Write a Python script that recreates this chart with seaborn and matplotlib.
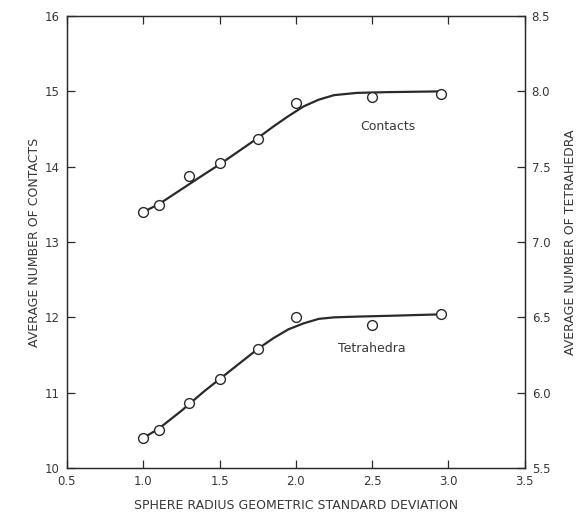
import numpy as np
import pandas as pd
import matplotlib
matplotlib.use("Agg")
import matplotlib.pyplot as plt
import seaborn as sns

# measured points
gsd = [1.0, 1.1, 1.3, 1.5, 1.75, 2.0, 2.5, 2.95]
contacts = [13.40, 13.49, 13.88, 14.05, 14.37, 14.85, 14.92, 14.96]
tetrahedra = [5.70, 5.75, 5.93, 6.09, 6.29, 6.50, 6.45, 6.52]

# hand-drawn fit curves
curve_x = [1.0, 1.1, 1.25, 1.4, 1.5, 1.6, 1.75, 1.85, 1.95, 2.05, 2.15, 2.25, 2.4, 2.6, 2.95]
contacts_curve = [13.40, 13.50, 13.70, 13.90, 14.03, 14.17, 14.38, 14.53, 14.67,
                  14.80, 14.89, 14.95, 14.98, 14.99, 15.00]
tetra_curve = [5.70, 5.76, 5.88, 6.01, 6.09, 6.17, 6.29, 6.36, 6.42,
               6.46, 6.49, 6.50, 6.505, 6.51, 6.52]

x_ticks = [0.5, 1.0, 1.5, 2.0, 2.5, 3.0, 3.5]
left_ticks = [10, 11, 12, 13, 14, 15, 16]
right_ticks = [5.5, 6.0, 6.5, 7.0, 7.5, 8.0, 8.5]

pts = pd.DataFrame({"gsd": gsd, "contacts": contacts, "tetrahedra": tetrahedra})
fit = pd.DataFrame({"x": curve_x, "contacts": contacts_curve, "tetrahedra": tetra_curve})

sns.set_theme(style="ticks")
plt.rcParams["font.family"] = ["DejaVu Sans"]
ink = "#2a2a2a"
txt = "#383838"

fig = plt.figure(figsize=(5.85, 5.18), dpi=100)
ax = fig.add_axes([0.1145, 0.0965, 0.7825, 0.8725])
ax2 = ax.twinx()

mk = dict(marker="o", s=50, facecolor="white", edgecolor=ink, linewidth=1.0, zorder=3)
sns.lineplot(data=fit, x="x", y="contacts", ax=ax, color=ink, linewidth=1.6, zorder=2)
sns.scatterplot(data=pts, x="gsd", y="contacts", ax=ax, **mk)
sns.lineplot(data=fit, x="x", y="tetrahedra", ax=ax2, color=ink, linewidth=1.6, zorder=2)
sns.scatterplot(data=pts, x="gsd", y="tetrahedra", ax=ax2, **mk)

ax.set_xlim(0.5, 3.5)
ax.set_ylim(10, 16)
ax2.set_ylim(5.5, 8.5)
ax.set_xticks(x_ticks)
ax.set_xticklabels([f"{v:.1f}" for v in x_ticks])
ax.set_yticks(left_ticks)
ax.set_yticklabels([str(v) for v in left_ticks])
ax2.set_yticks(right_ticks)
ax2.set_yticklabels([f"{v:.1f}" for v in right_ticks])

for a in (ax, ax2):
    for s in a.spines.values():
        s.set_color(ink)
        s.set_linewidth(0.9)
ax.tick_params(axis="both", direction="in", length=6, width=0.9, colors=ink,
               labelcolor=txt, labelsize=8.5, top=True, pad=5)
ax2.tick_params(axis="y", direction="in", length=6, width=0.9, colors=ink,
                labelcolor=txt, labelsize=8.5, pad=5)

ax.set_xlabel("SPHERE RADIUS GEOMETRIC STANDARD DEVIATION", fontsize=9, color=txt, labelpad=8)
ax.set_ylabel("AVERAGE NUMBER OF CONTACTS", fontsize=9, color=txt, labelpad=3)
ax2.set_ylabel("AVERAGE NUMBER OF TETRAHEDRA", fontsize=9, color=txt, labelpad=10)

ax.text(2.60, 14.54, "Contacts", fontsize=9, color=txt, ha="center", va="center")
ax.text(2.50, 11.58, "Tetrahedra", fontsize=9, color=txt, ha="center", va="center")

fig.savefig("out.png", dpi=100)
